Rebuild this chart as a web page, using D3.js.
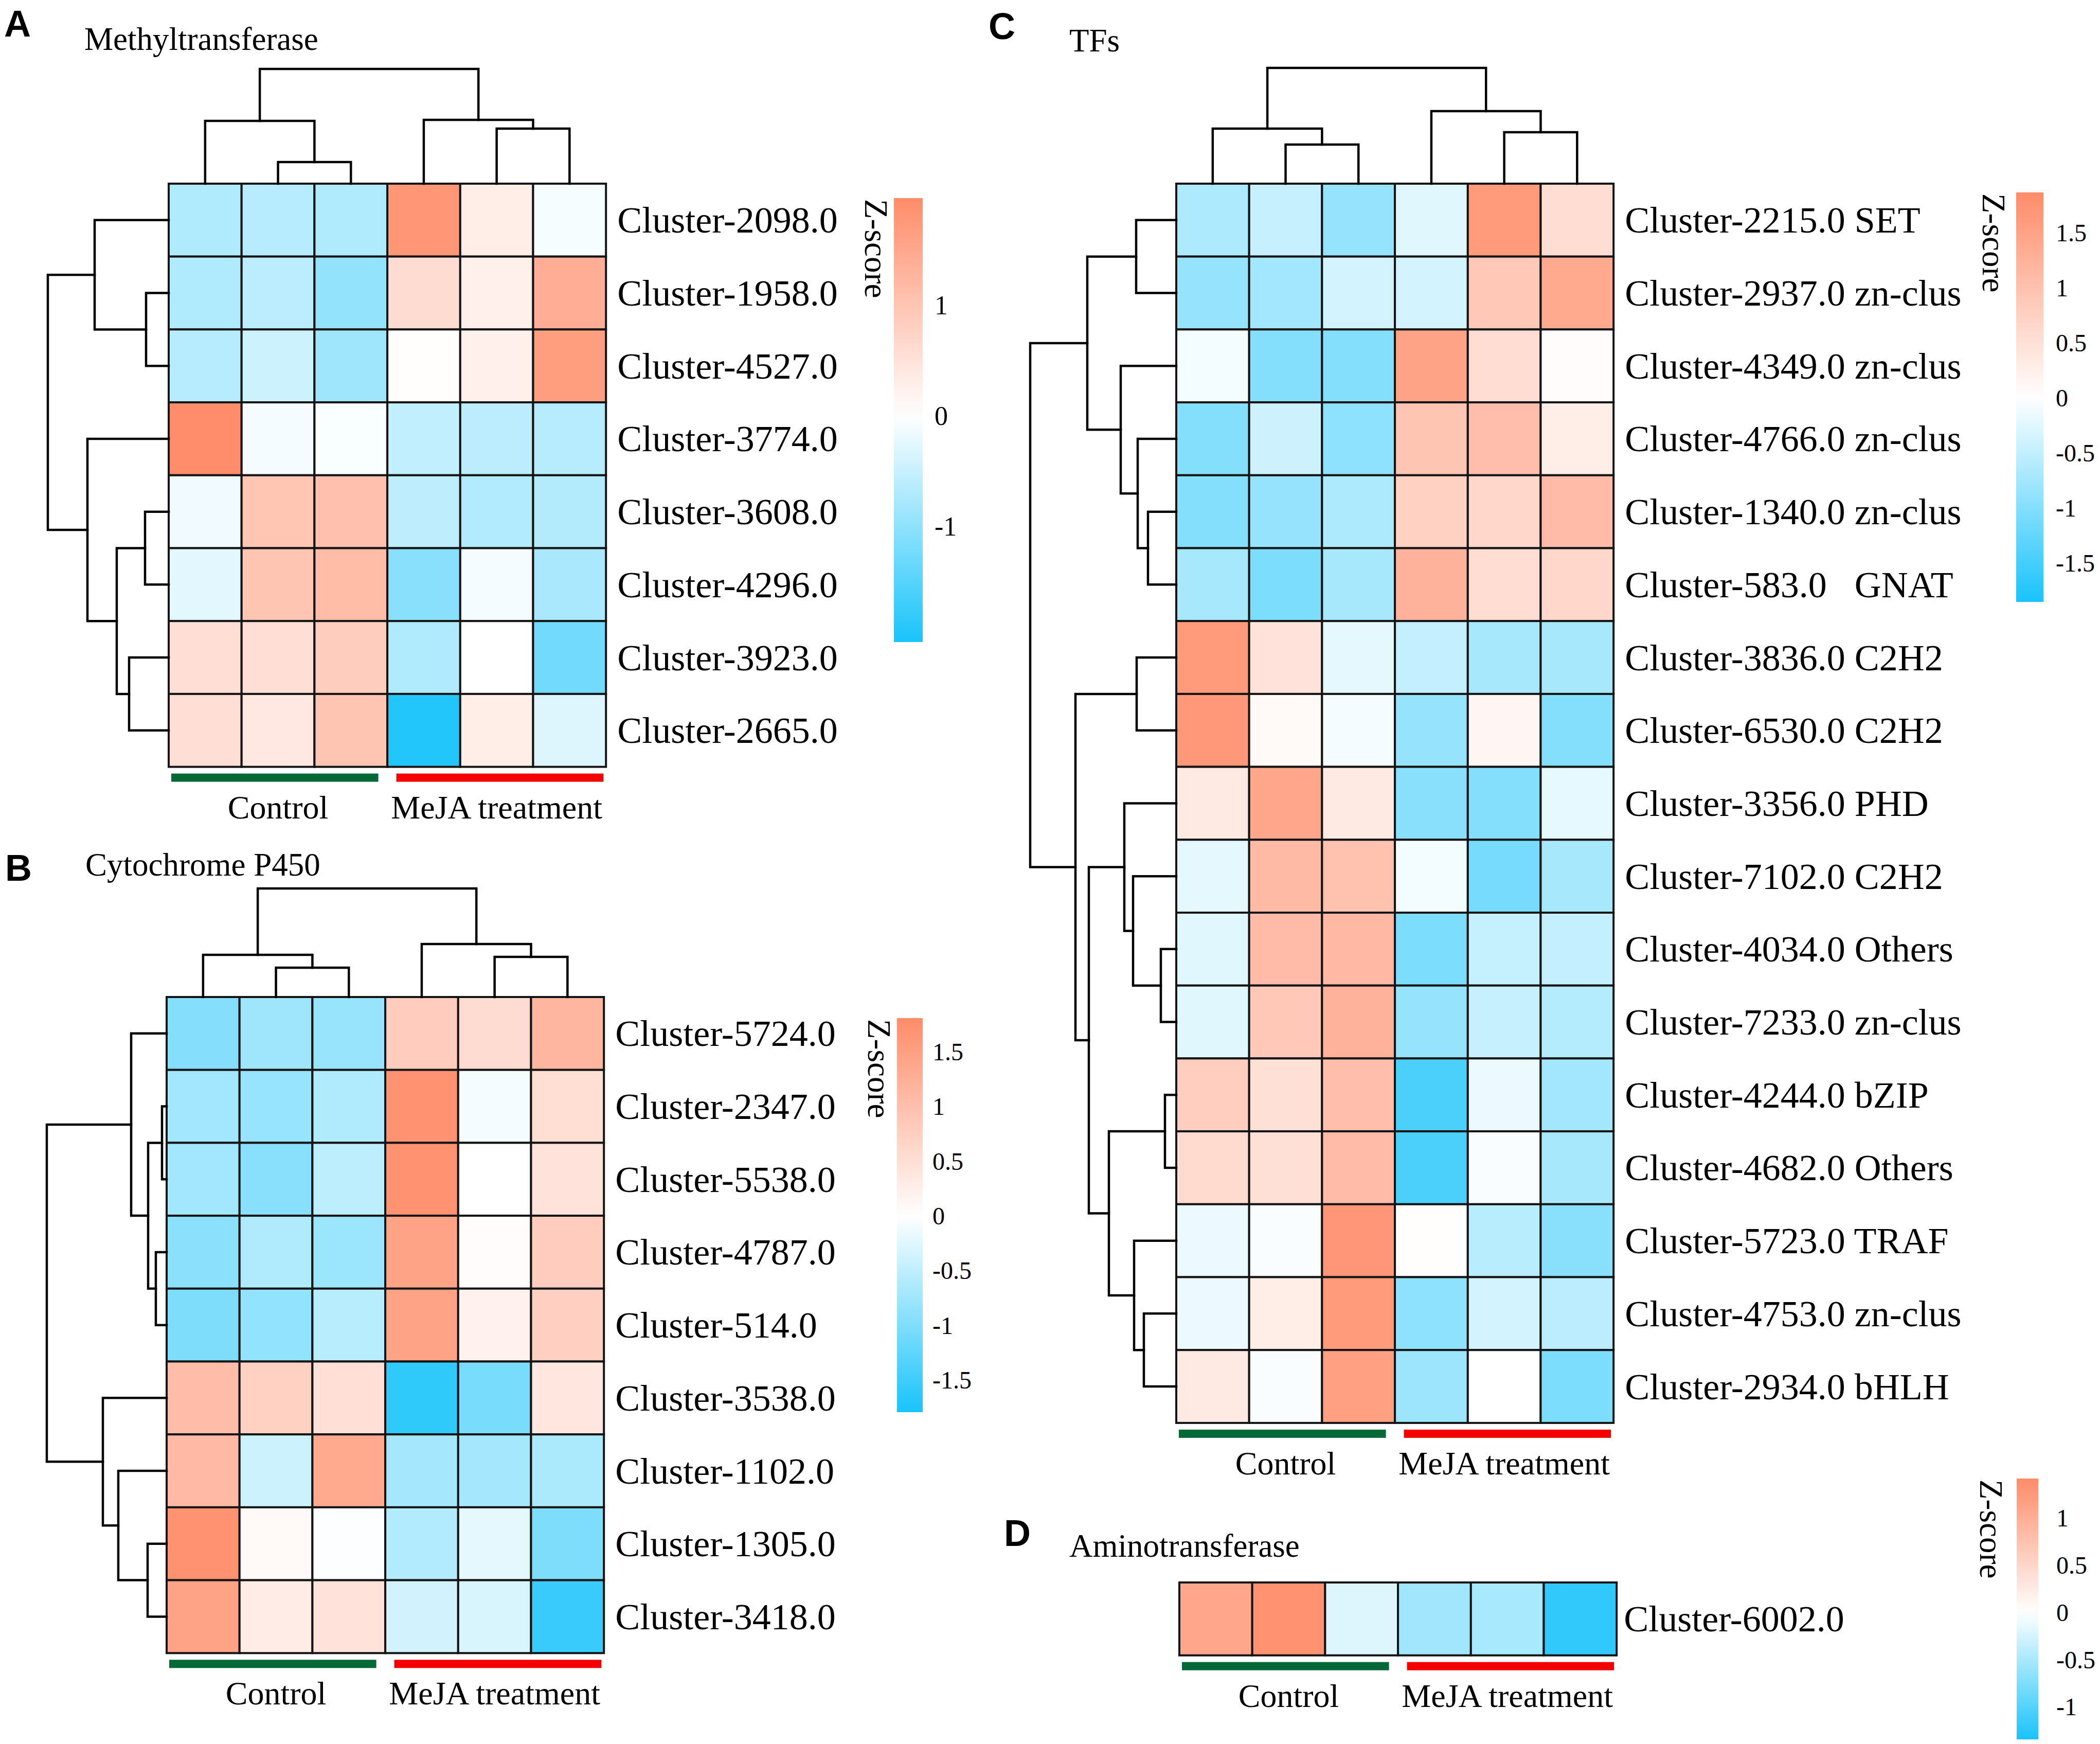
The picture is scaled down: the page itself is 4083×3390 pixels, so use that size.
<!DOCTYPE html>
<html>
<head>
<meta charset="utf-8">
<script src="https://cdn.jsdelivr.net/npm/d3@7"></script>
<style>
body { margin: 0; background: #fff; }
</style>
</head>
<body>
<script>
// ---- data ----
var samples = ["C1", "C2", "C3", "M1", "M2", "M3"];
var groups = ["Control", "MeJA treatment"];

// A: Methyltransferase
var methylRows = ["Cluster-2098.0", "Cluster-1958.0", "Cluster-4527.0", "Cluster-3774.0",
    "Cluster-3608.0", "Cluster-4296.0", "Cluster-3923.0", "Cluster-2665.0"];
var methylZ = [
    [-0.70, -0.65, -0.70,  1.80,  0.30, -0.08],
    [-0.70, -0.60, -0.95,  0.60,  0.25,  1.40],
    [-0.65, -0.45, -0.85,  0.02,  0.25,  1.68],
    [ 1.95, -0.10, -0.05, -0.55, -0.60, -0.65],
    [-0.12,  0.98,  1.07, -0.58, -0.68, -0.67],
    [-0.25,  1.00,  1.15, -1.05, -0.10, -0.75],
    [ 0.55,  0.55,  0.85, -0.70,  0.00, -1.25],
    [ 0.55,  0.40,  1.00, -1.95,  0.30, -0.30]
];
// merges: [child a, child b, height]; leaves are 0..n-1, merge k gets id n+k
var methylRowTree = [[1, 2, 44], [0, 8, 144], [4, 5, 46], [6, 7, 77], [10, 11, 101], [3, 12, 158], [9, 13, 235]];
var methylColTree = [[1, 2, 42], [0, 6, 122], [4, 5, 107], [3, 8, 124], [7, 9, 223]];
var methylLegendTicks = [-1, 0, 1];

// B: Cytochrome P450
var p450Rows = ["Cluster-5724.0", "Cluster-2347.0", "Cluster-5538.0", "Cluster-4787.0", "Cluster-514.0",
    "Cluster-3538.0", "Cluster-1102.0", "Cluster-1305.0", "Cluster-3418.0"];
var p450Z = [
    [-0.95, -0.75, -0.80,  0.80,  0.55,  1.15],
    [-0.72, -0.82, -0.62,  1.72, -0.08,  0.52],
    [-0.72, -0.92, -0.52,  1.72,  0.00,  0.44],
    [-0.90, -0.62, -0.78,  1.45,  0.05,  0.80],
    [-1.00, -0.85, -0.55,  1.45,  0.20,  0.75],
    [ 1.05,  0.72,  0.50, -1.62, -1.05,  0.40],
    [ 1.10, -0.40,  1.35, -0.70, -0.70, -0.65],
    [ 1.72,  0.10, -0.02, -0.60, -0.20, -1.00],
    [ 1.45,  0.30,  0.45, -0.35, -0.30, -1.55]
];
var p450RowTree = [[1, 2, 9], [3, 4, 21], [9, 10, 36], [0, 11, 69], [7, 8, 37], [6, 13, 94], [5, 14, 124], [12, 15, 233]];
var p450ColTree = [[1, 2, 57], [0, 6, 82], [4, 5, 78], [3, 8, 103], [7, 9, 211]];
var p450LegendTicks = [-1.5, -1, -0.5, 0, 0.5, 1, 1.5];

// C: TFs
var tfRows = ["Cluster-2215.0 SET", "Cluster-2937.0 zn-clus", "Cluster-4349.0 zn-clus", "Cluster-4766.0 zn-clus",
    "Cluster-1340.0 zn-clus", "Cluster-583.0   GNAT", "Cluster-3836.0 C2H2", "Cluster-6530.0 C2H2",
    "Cluster-3356.0 PHD", "Cluster-7102.0 C2H2", "Cluster-4034.0 Others", "Cluster-7233.0 zn-clus",
    "Cluster-4244.0 bZIP", "Cluster-4682.0 Others", "Cluster-5723.0 TRAF", "Cluster-4753.0 zn-clus",
    "Cluster-2934.0 bHLH"];
var tfZ = [
    [-0.65, -0.45, -0.85, -0.25,  1.65,  0.55],
    [-0.85, -0.75, -0.35, -0.35,  0.90,  1.40],
    [-0.10, -1.00, -1.00,  1.50,  0.55,  0.05],
    [-1.00, -0.40, -0.90,  0.95,  1.05,  0.30],
    [-1.00, -0.85, -0.65,  0.75,  0.65,  1.10],
    [-0.70, -1.05, -0.70,  1.25,  0.55,  0.65],
    [ 1.65,  0.45, -0.22, -0.48, -0.70, -0.70],
    [ 1.68,  0.10, -0.08, -0.85,  0.15, -1.00],
    [ 0.35,  1.45,  0.35, -0.95, -1.00, -0.20],
    [-0.22,  1.12,  1.00, -0.10, -1.10, -0.70],
    [-0.25,  1.10,  1.15, -1.05, -0.47, -0.48],
    [-0.25,  0.90,  1.25, -0.85, -0.45, -0.60],
    [ 0.80,  0.50,  1.05, -1.45, -0.15, -0.75],
    [ 0.60,  0.50,  1.10, -1.45, -0.05, -0.70],
    [-0.15, -0.05,  1.70,  0.02, -0.57, -0.95],
    [-0.15,  0.30,  1.65, -0.90, -0.35, -0.55],
    [ 0.35, -0.05,  1.55, -0.80,  0.00, -1.05]
];
var tfRowTree = [[0, 1, 78], [4, 5, 55], [3, 18, 75], [2, 19, 108], [17, 20, 173],
    [6, 7, 77], [10, 11, 30], [9, 23, 84], [8, 24, 101], [12, 13, 22], [15, 16, 63],
    [14, 27, 82], [26, 28, 131], [25, 29, 170], [22, 30, 196], [21, 31, 284]];
var tfColTree = [[1, 2, 76], [0, 6, 107], [4, 5, 100], [3, 8, 141], [7, 9, 225]];
var tfLegendTicks = [-1.5, -1, -0.5, 0, 0.5, 1, 1.5];

// D: Aminotransferase
var aminoRows = ["Cluster-6002.0"];
var aminoZ = [[1.10, 1.35, -0.20, -0.55, -0.50, -1.20]];
var aminoLegendTicks = [-1, -0.5, 0, 0.5, 1];

// ---- drawing ----
var W = 4083, H = 3390;
var LOW = "#19c3fa", MID = "#ffffff", HIGH = "#ff8c69";
var serif = "'Liberation Serif', 'Times New Roman', serif";
var sans = "'Liberation Sans', Arial, sans-serif";

var svg = d3.select("body").append("svg")
    .attr("width", W)
    .attr("height", H);

svg.append("rect").attr("width", W).attr("height", H).attr("fill", "#fff");

var defs = svg.append("defs");

function drawTree(g, tree, leafPos, hScale, side) {
    var pos = leafPos.slice();
    var hgt = leafPos.map(function() { return 0; });
    tree.forEach(function(m) {
        var a = m[0], b = m[1], h = m[2];
        var pa = pos[a], pb = pos[b];
        var ha = hScale(hgt[a]), hb = hScale(hgt[b]), hh = hScale(h);
        var d = side === "top"
            ? "M" + pa + "," + ha + "V" + hh + "H" + pb + "V" + hb
            : "M" + ha + "," + pa + "H" + hh + "V" + pb + "H" + hb;
        g.append("path")
            .attr("d", d)
            .attr("fill", "none")
            .attr("stroke", "#000")
            .attr("stroke-width", 4.5)
            .attr("stroke-linecap", "square");
        pos.push((pa + pb) / 2);
        hgt.push(h);
    });
}

function heatmapPanel(cfg) {
    var g = svg.append("g");
    var n = cfg.rows.length;
    var cell = 141.7;

    var x = d3.scaleBand().domain(d3.range(samples.length)).range([cfg.x0, cfg.x0 + samples.length * cell]);
    var y = d3.scaleBand().domain(d3.range(n)).range([cfg.y0, cfg.y0 + n * cell]);
    var color = d3.scaleLinear().domain([cfg.lim[0], 0, cfg.lim[1]]).range([LOW, MID, HIGH]);

    // panel letter and title
    g.append("text")
        .attr("x", cfg.letter[1])
        .attr("y", cfg.letter[2])
        .text(cfg.letter[0])
        .style("font-family", sans)
        .style("font-weight", "bold")
        .style("font-size", "72px");

    g.append("text")
        .attr("x", cfg.title[1])
        .attr("y", cfg.title[2])
        .text(cfg.title[0])
        .style("font-family", serif)
        .style("font-size", "63px");

    // cells
    var cells = [];
    cfg.z.forEach(function(row, i) {
        row.forEach(function(v, j) { cells.push({ r: i, c: j, v: v }); });
    });

    g.selectAll("rect.cell")
        .data(cells)
        .enter().append("rect")
        .attr("class", "cell")
        .attr("x", function(d) { return x(d.c); })
        .attr("y", function(d) { return y(d.r); })
        .attr("width", x.bandwidth())
        .attr("height", y.bandwidth())
        .attr("fill", function(d) { return color(d.v); })
        .attr("stroke", "#141414")
        .attr("stroke-width", 4);

    // row labels
    g.selectAll("text.rowlab")
        .data(cfg.rows)
        .enter().append("text")
        .attr("class", "rowlab")
        .attr("x", x.range()[1] + cfg.labelGap)
        .attr("y", function(d, i) { return y(i) + y.bandwidth() / 2; })
        .attr("dy", "0.34em")
        .attr("xml:space", "preserve")
        .style("white-space", "pre")
        .style("font-family", serif)
        .style("font-size", "72px")
        .text(function(d) { return d; });

    // dendrograms
    if (cfg.colTree) {
        var colLeaves = samples.map(function(s, j) { return x(j) + x.bandwidth() / 2; });
        var hc = d3.scaleLinear()
            .domain([0, d3.max(cfg.colTree, function(m) { return m[2]; })])
            .range([cfg.y0, cfg.y0 - cfg.colTreeSize]);
        drawTree(g, cfg.colTree, colLeaves, hc, "top");
    }
    if (cfg.rowTree) {
        var rowLeaves = cfg.rows.map(function(r, i) { return y(i) + y.bandwidth() / 2; });
        var hr = d3.scaleLinear()
            .domain([0, d3.max(cfg.rowTree, function(m) { return m[2]; })])
            .range([cfg.x0, cfg.x0 - cfg.rowTreeSize]);
        drawTree(g, cfg.rowTree, rowLeaves, hr, "left");
    }

    // group annotation bars
    var bottom = y.range()[1];
    var gx = d3.scaleBand().domain(groups).range([cfg.x0 + 5, x.range()[1] - 5]).paddingInner(0.08);
    g.selectAll("rect.grp")
        .data(groups)
        .enter().append("rect")
        .attr("class", "grp")
        .attr("x", function(d) { return gx(d); })
        .attr("y", bottom + 13)
        .attr("width", gx.bandwidth())
        .attr("height", 16)
        .attr("fill", function(d, i) { return i === 0 ? "#056937" : "#f50000"; });

    var gl = d3.scaleBand().domain(groups).range(x.range());
    g.selectAll("text.grplab")
        .data(groups)
        .enter().append("text")
        .attr("class", "grplab")
        .attr("x", function(d) { return gl(d) + gl.bandwidth() / 2; })
        .attr("y", bottom + 100)
        .attr("text-anchor", "middle")
        .style("font-family", serif)
        .style("font-size", "64px")
        .text(function(d) { return d; });

    // colour legend
    var b = cfg.bar;
    var ly = d3.scaleLinear().domain(cfg.lim).range([b.y1, b.y0]);
    var grad = defs.append("linearGradient")
        .attr("id", "grad" + cfg.id)
        .attr("x1", 0).attr("y1", 1).attr("x2", 0).attr("y2", 0);
    d3.range(0, 1.0001, 0.05).forEach(function(t) {
        var v = cfg.lim[0] + t * (cfg.lim[1] - cfg.lim[0]);
        grad.append("stop").attr("offset", t).attr("stop-color", color(v));
    });
    g.append("rect")
        .attr("x", b.x)
        .attr("y", b.y0)
        .attr("width", b.w)
        .attr("height", b.y1 - b.y0)
        .attr("fill", "url(#grad" + cfg.id + ")");

    var axis = g.append("g")
        .attr("transform", "translate(" + (b.x + b.w) + ",0)")
        .call(d3.axisRight(ly).tickValues(cfg.ticks).tickSize(0).tickPadding(cfg.tickPad)
            .tickFormat(function(d) { return String(d); }));
    axis.select(".domain").remove();
    axis.selectAll("text")
        .style("font-family", serif)
        .style("font-size", cfg.tickFont + "px")
        .attr("fill", "#000");

    g.append("text")
        .attr("transform", "translate(" + cfg.zTitleX + "," + (b.y0 + 2) + ") rotate(90)")
        .style("font-family", serif)
        .style("font-size", "63px")
        .text("Z-score");
}

heatmapPanel({
    id: "A", letter: ["A", 8, 71], title: ["Methyltransferase", 164, 97],
    rows: methylRows, z: methylZ, rowTree: methylRowTree, colTree: methylColTree,
    x0: 328, y0: 357, rowTreeSize: 235, colTreeSize: 223, labelGap: 22,
    lim: [-2.04, 1.97], ticks: methylLegendTicks,
    bar: { x: 1738, y0: 385, y1: 1248, w: 56 }, tickPad: 23, tickFont: 52, zTitleX: 1682
});

heatmapPanel({
    id: "B", letter: ["B", 10, 1712], title: ["Cytochrome P450", 166, 1702],
    rows: p450Rows, z: p450Z, rowTree: p450RowTree, colTree: p450ColTree,
    x0: 324, y0: 1938, rowTreeSize: 233, colTreeSize: 211, labelGap: 22,
    lim: [-1.79, 1.81], ticks: p450LegendTicks,
    bar: { x: 1744, y0: 1979, y1: 2745, w: 50 }, tickPad: 19, tickFont: 48, zTitleX: 1688
});

heatmapPanel({
    id: "C", letter: ["C", 1922, 76], title: ["TFs", 2079, 100],
    rows: tfRows, z: tfZ, rowTree: tfRowTree, colTree: tfColTree,
    x0: 2287, y0: 357, rowTreeSize: 284, colTreeSize: 225, labelGap: 22,
    lim: [-1.85, 1.87], ticks: tfLegendTicks,
    bar: { x: 3920, y0: 374, y1: 1170, w: 53 }, tickPad: 24, tickFont: 48, zTitleX: 3855
});

heatmapPanel({
    id: "D", letter: ["D", 1952, 3005], title: ["Aminotransferase", 2079, 3026],
    rows: aminoRows, z: aminoZ, rowTree: null, colTree: null,
    x0: 2293, y0: 3076, labelGap: 14,
    lim: [-1.34, 1.42], ticks: aminoLegendTicks,
    bar: { x: 3921, y0: 2874, y1: 3381, w: 42 }, tickPad: 35, tickFont: 48, zTitleX: 3850
});
</script>
</body>
</html>
